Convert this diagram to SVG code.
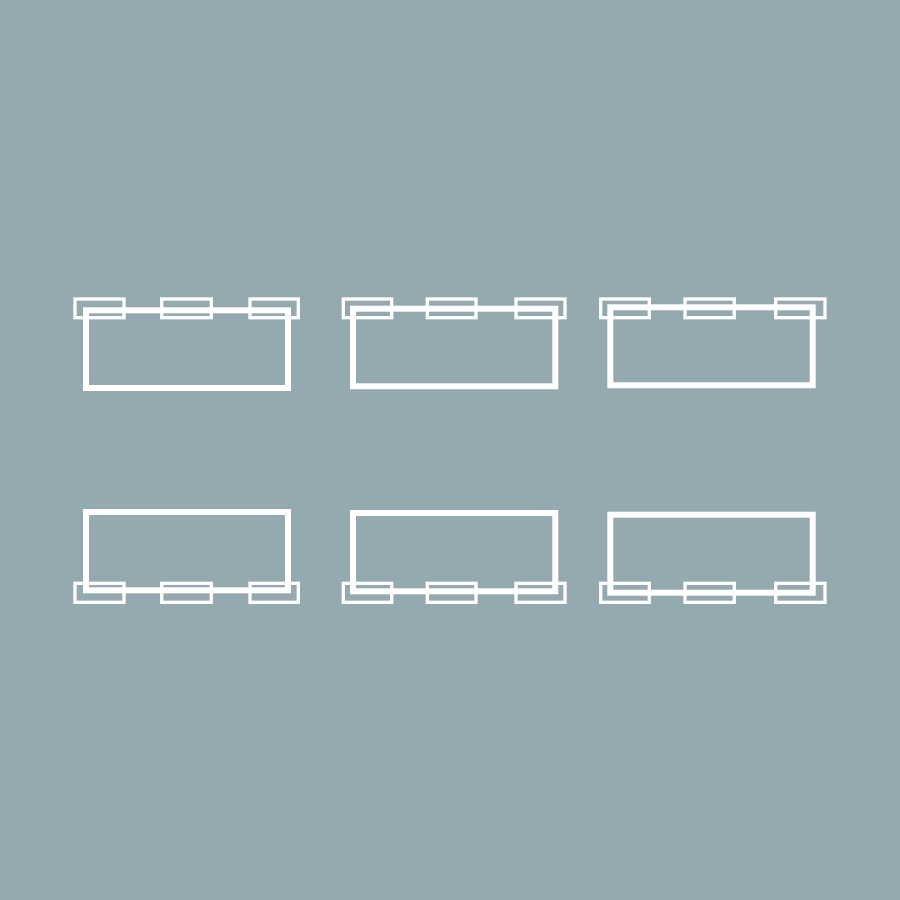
<svg xmlns="http://www.w3.org/2000/svg" width="900" height="900" viewBox="0 0 900 900">
<style>
.big{fill:none;stroke:#ffffff;stroke-width:6}
.tab{fill:none;stroke:#ffffff;stroke-width:3.3}
</style>
<rect x="0" y="0" width="900" height="900" fill="#95a9b1"/>
<g id="node-1">
<rect class="big" x="86" y="310.3" width="202" height="77.7"/>
<rect class="tab" x="75" y="299" width="49" height="18.7"/>
<rect class="tab" x="161.7" y="299" width="49.6" height="18.7"/>
<rect class="tab" x="250" y="299" width="48.3" height="18.7"/>
</g>
<g id="node-2">
<rect class="big" x="353" y="308.7" width="202.3" height="77.6"/>
<rect class="tab" x="343.3" y="299" width="48.4" height="18.7"/>
<rect class="tab" x="427.3" y="299" width="48.7" height="18.7"/>
<rect class="tab" x="516" y="299" width="49" height="18.7"/>
</g>
<g id="node-3">
<rect class="big" x="610.3" y="307.3" width="202.4" height="78"/>
<rect class="tab" x="600.7" y="299" width="48.6" height="18.7"/>
<rect class="tab" x="685" y="299" width="49.3" height="18.7"/>
<rect class="tab" x="775.7" y="299" width="49.3" height="18.7"/>
</g>
<g id="node-4">
<rect class="big" x="86" y="512" width="202" height="78.3"/>
<rect class="tab" x="75" y="583.3" width="49" height="19"/>
<rect class="tab" x="161.7" y="583.3" width="49.6" height="19"/>
<rect class="tab" x="250" y="583.3" width="48.3" height="19"/>
</g>
<g id="node-5">
<rect class="big" x="353" y="513" width="202.3" height="78.3"/>
<rect class="tab" x="343.3" y="583.3" width="48.4" height="19"/>
<rect class="tab" x="427.3" y="583.3" width="48.7" height="19"/>
<rect class="tab" x="516" y="583.3" width="49" height="19"/>
</g>
<g id="node-6">
<rect class="big" x="610.3" y="514.7" width="202.4" height="78"/>
<rect class="tab" x="600.7" y="583.3" width="48.6" height="19"/>
<rect class="tab" x="685" y="583.3" width="49.3" height="19"/>
<rect class="tab" x="775.7" y="583.3" width="49.3" height="19"/>
</g>
<g id="connectors"></g>
</svg>
